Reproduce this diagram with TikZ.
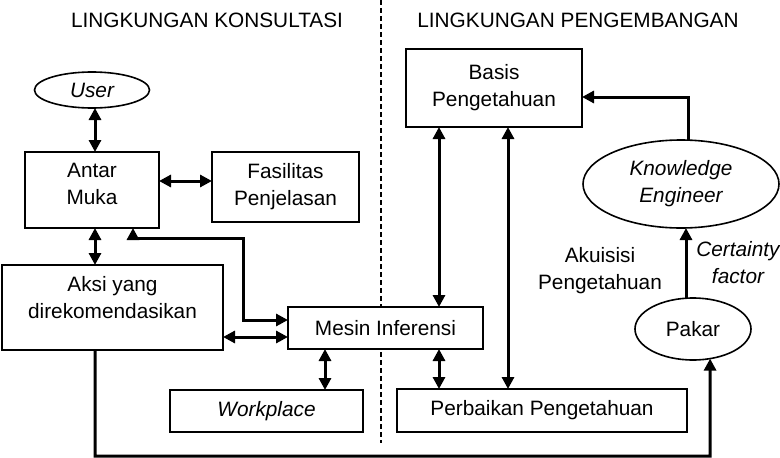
\documentclass[tikz,border=0pt]{standalone}
\usepackage{fontspec}
\setmainfont{Liberation Sans}
\usetikzlibrary{arrows.meta,shapes.geometric,calc}
\begin{document}
\begin{tikzpicture}[x=1pt,y=-1pt,
  font=\fontsize{20.8}{27}\selectfont,
  box/.style={draw,fill=white,line width=2pt,rectangle,inner sep=0pt,outer sep=0pt,align=center},
  oval/.style={draw,fill=white,line width=1.6pt,ellipse,inner sep=0pt,outer sep=0pt,align=center},
  inlabel/.style={align=center,inner sep=0pt},
  dbl/.style={line width=3pt,{Triangle[length=12pt,width=12pt]}-{Triangle[length=12pt,width=12pt]}},
  arr/.style={line width=3pt,-{Triangle[length=12pt,width=12pt]}}]
\useasboundingbox (0,0) rectangle (780,458);
% titles
\node (t1) at (207,20) {LINGKUNGAN KONSULTASI};
\node (t2) at (578,20) {LINGKUNGAN PENGEMBANGAN};
\coordinate (dtop) at (381,0);
\coordinate (dbot) at (381,443);
\draw[line width=1.4pt,dash pattern=on 5pt off 3pt] (dtop) -- (dbot);
% nodes
\node[oval,minimum width=115pt,minimum height=36pt] (user) at (92,90) {\itshape User};
\node[box,minimum width=134pt,minimum height=76pt,
  label={[inlabel,name=antartext,yshift=6pt]center:Antar\\Muka}] (antar) at (92,190) {};
\node[box,minimum width=147pt,minimum height=70pt] (fasil) at (285.5,187) {Fasilitas\\Penjelasan};
\node[box,minimum width=221pt,minimum height=85pt,
  label={[inlabel,name=aksitext,yshift=10pt]center:Aksi yang\\direkomendasikan}] (aksi) at (112.5,307.5) {};
\node[box,minimum width=195pt,minimum height=42pt] (mesin) at (385.5,328) {Mesin Inferensi};
\node[box,minimum width=193pt,minimum height=42pt] (work) at (266.5,411) {\itshape Workplace};
\node[box,minimum width=176pt,minimum height=78pt] (basis) at (494,88) {Basis\\Pengetahuan};
\node[box,minimum width=290pt,minimum height=43pt] (perb) at (542,410.5) {Perbaikan Pengetahuan};
\node[oval,minimum width=196pt,minimum height=88pt] (ke) at (681,184) {\itshape Knowledge\\\itshape Engineer};
\node[oval,minimum width=116pt,minimum height=62pt] (pakar) at (693,329) {Pakar};
\node[align=center] (akuisisi) at (600,271) {Akuisisi\\Pengetahuan};
\node[align=center,font=\fontsize{20.8}{27}\selectfont\itshape] (cf) at (738,263) {Certainty\\factor};
% connectors
\draw[dbl] ([xshift=3pt]user.south) -- ([xshift=3pt]antar.north);
\draw[dbl] ([yshift=9pt]antar.east) -- ([yshift=9pt]antar.east -| fasil.west);
\draw[dbl] ([xshift=3pt]antar.south) -- ([xshift=3pt]antar.south |- aksi.north);
\coordinate (b1) at (243,238);
\draw[dbl] ([yshift=8pt]mesin.west) -| (b1) -| ([xshift=41pt]antar.south);
\draw[dbl] ([yshift=-9pt]mesin.west -| aksi.east) -- ([yshift=-9pt]mesin.west);
\draw[dbl] ([xshift=-60.5pt]mesin.south) -- ([xshift=-60.5pt]mesin.south |- work.north);
\coordinate (b2) at (710,456);
\draw[arr] ([xshift=-17.5pt]aksi.south) |- (b2) -- (pakar.-60);
\draw[dbl] ([xshift=-55pt]basis.south) -- ([xshift=-55pt]basis.south |- mesin.north);
\draw[dbl] ([xshift=14pt]basis.south) -- ([xshift=14pt]basis.south |- perb.north);
\draw[dbl] ([xshift=-55pt]basis.south |- mesin.south) -- ([xshift=-55pt]basis.south |- perb.north);
\draw[arr] ([xshift=7pt]ke.north) |- ([yshift=-9pt]basis.east);
\draw[arr] ([xshift=-7pt]pakar.north) -- ([xshift=-7pt]pakar.north |- ke.south);
\end{tikzpicture}
\end{document}
